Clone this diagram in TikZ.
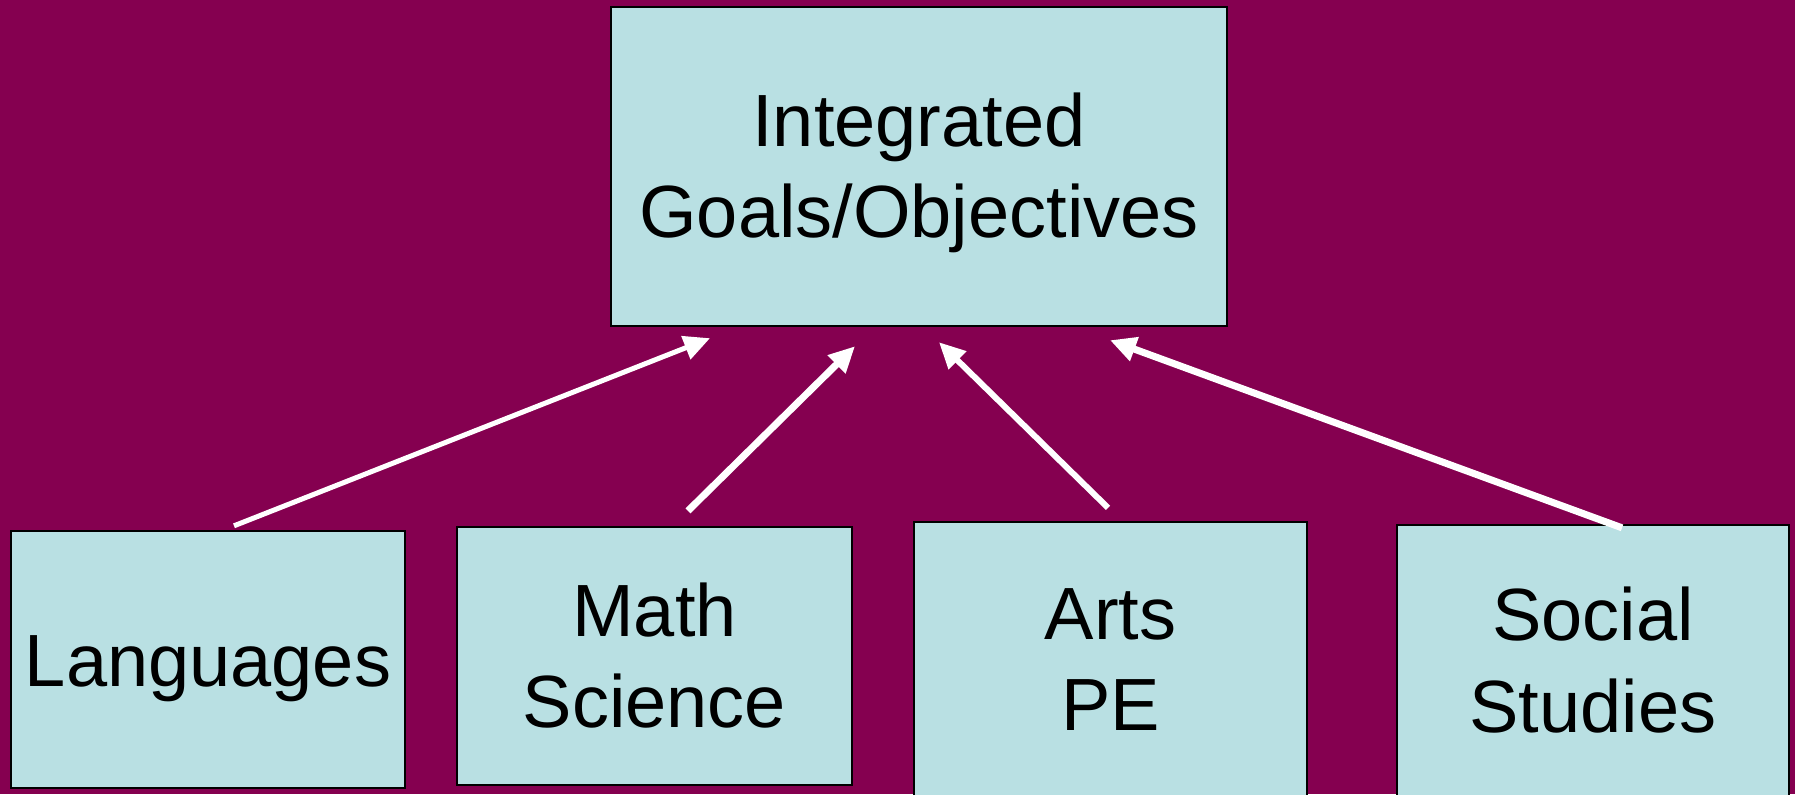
\documentclass[tikz,border=0pt]{standalone}
\usepackage{fontspec}
\setmainfont{Liberation Sans}
\usetikzlibrary{arrows.meta}
\definecolor{bgmaroon}{HTML}{850050}
\definecolor{boxfill}{HTML}{B9E0E3}
\newcommand\lowtext[2]{\raisebox{-#1}[\height][\depth]{\begin{tabular}{@{}c@{}}#2\end{tabular}}}
\begin{document}
\begin{tikzpicture}[x=0.25pt,y=-0.25pt,
  box/.style={draw=black,line width=0.6pt,fill=boxfill,rectangle,inner sep=0pt,
    font=\fontsize{18.5pt}{22.9pt}\selectfont,text=black},
  arr/.style={draw=white,-{Triangle[length=6.5pt,width=6pt]},color=white}]
\useasboundingbox (0,0) rectangle (1795,794);
\clip (0,0) rectangle (1795,794);
\fill[bgmaroon] (0,0) rectangle (1795,794);
\node[box,minimum width=154pt,minimum height=79.75pt] (top) at (919,166.5) {\lowtext{1.75pt}{Integrated\\Goals/Objectives}};
\node[box,minimum width=98.5pt,minimum height=64.25pt] (lang) at (208,659.5) {\lowtext{2.25pt}{Languages}};
\node[box,minimum width=98.75pt,minimum height=64.5pt] (math) at (654.5,656) {\lowtext{1.9pt}{Math\\Science}};
\node[box,minimum width=98.25pt,minimum height=70pt] (arts) at (1110.5,662) {\lowtext{1.15pt}{Arts\\PE}};
\node[box,minimum width=98pt,minimum height=69.5pt] (soc) at (1593,664) {\lowtext{1.1pt}{Social\\Studies}};
\draw[arr,line width=1.25pt] ([shift={(26,-4)}]lang.north) -- ([shift={(-209,11)}]top.south);
\draw[arr,line width=1.75pt] ([shift={(33.5,-15)}]math.north) -- ([shift={(-64,19)}]top.south);
\draw[arr,line width=1.5pt] ([shift={(-2.5,-13)}]arts.north) -- ([shift={(20,15)}]top.south);
\draw[arr,line width=1.75pt] ([shift={(29,4)}]soc.north) -- ([shift={(191,13)}]top.south);
\end{tikzpicture}
\end{document}
